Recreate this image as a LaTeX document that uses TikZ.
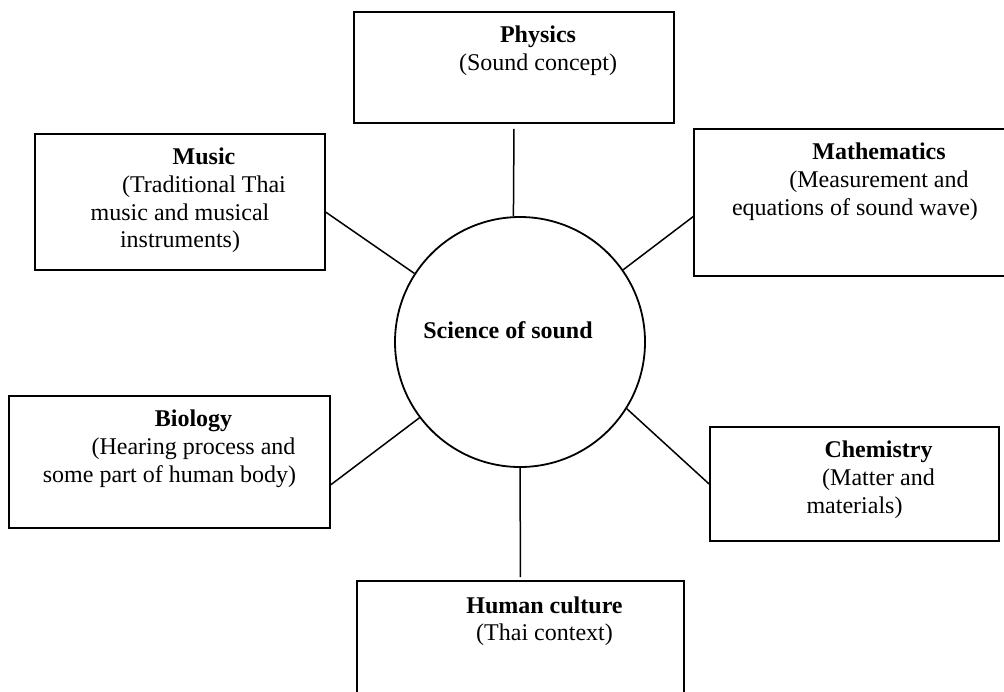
\documentclass[tikz,border=0pt]{standalone}
\usepackage{fontspec}
\setmainfont{Liberation Serif}
\usetikzlibrary{positioning,shapes.geometric}
\newcommand{\indt}{\hspace*{24pt}}
\tikzset{
  subject/.style={
    rectangle,
    draw=black, line width=0.9pt,
    inner sep=0pt},
  caption/.style={
    inner sep=0pt,
    align=center,
    font=\fontsize{12}{13.8}\selectfont,
    execute at begin node=\strut},
  hub/.style={
    circle,
    draw=black, line width=0.9pt,
    minimum size=125pt,
    inner sep=0pt},
  link/.style={draw, line width=0.75pt},
}
\begin{document}
\begin{tikzpicture}[x=0.5pt, y=-0.5pt]
    \useasboundingbox (0,0) rectangle (1004,691);

    \node[hub] (sound) at (520,342) {};
    \node[caption, anchor=base] (soundtxt) at (508,338) {\textbf{Science of sound}};

    \node[subject, minimum width=160pt, minimum height=55.5pt] (physics) at (514,67.5) {};
    \node[caption, below=7.4pt of physics.north] (physicstxt) {\indt\textbf{Physics}\\ \indt(Sound concept)};

    \node[subject, minimum width=145pt, minimum height=68pt] (music) at (180,202) {};
    \node[caption, below=7.4pt of music.north] (musictxt) {\indt\textbf{Music}\\ \indt(Traditional Thai\\ music and musical\\ instruments)};

    \node[subject, minimum width=161pt, minimum height=73.5pt] (maths) at (855,202.5) {};
    \node[caption, below=7.4pt of maths.north] (mathstxt) {\indt\textbf{Mathematics}\\ \indt(Measurement and\\ equations of sound wave)};

    \node[subject, minimum width=160.5pt, minimum height=66pt] (biology) at (169.5,462) {};
    \node[caption, below=7.4pt of biology.north] (biologytxt) {\indt\textbf{Biology}\\ \indt(Hearing process and\\ some part of human body)};

    \node[subject, minimum width=144.5pt, minimum height=57pt] (chemistry) at (854.5,484) {};
    \node[caption, below=7.4pt of chemistry.north] (chemistrytxt) {\indt\textbf{Chemistry}\\ \indt(Matter and\\ materials)};

    \node[subject, minimum width=163.5pt, minimum height=62pt] (culture) at (520.5,643) {};
    \node[caption, below=8pt of culture.north] (culturetxt) {\indt\textbf{Human culture}\\ \indt(Thai context)};

    \path[link, shorten <=2.5pt] (physics.south) -- (sound.93);
    \path[link] (music.-4.7) -- (sound.147.6);
    \path[link] (maths.185.5) -- (sound.35.9);
    \path[link] (biology.-8.6) -- (sound.217.7);
    \path[link] (chemistry.west) -- (sound.328.4);
    \path[link, shorten >=1.5pt] (sound.south) -- (culture.north);
\end{tikzpicture}
\end{document}
